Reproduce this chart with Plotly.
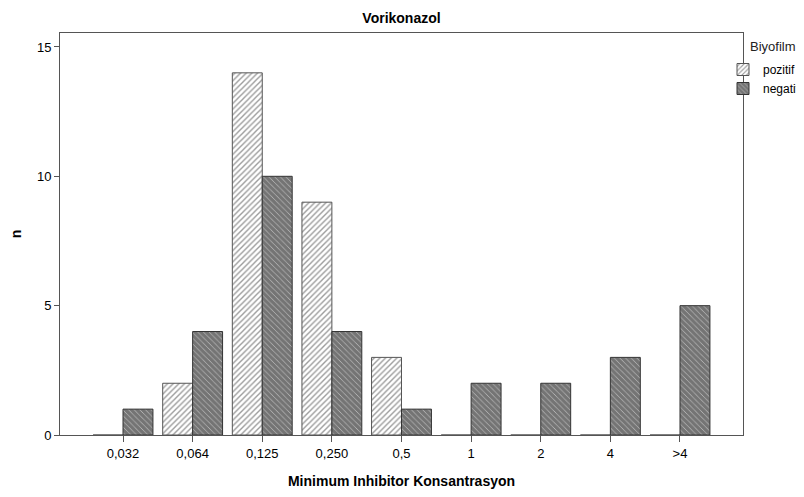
import plotly.graph_objects as go

categories = ["0,032", "0,064", "0,125", "0,250", "0,5", "1", "2", "4", ">4"]
pozitif = [0, 2, 14, 9, 3, 0, 0, 0, 0]
negatif = [1, 4, 10, 4, 1, 2, 2, 3, 5]

FONT = "Liberation Sans, Arial, sans-serif"

# page body has an 8px margin; the figure is sized/offset to compensate
W, H = 796, 489

fig = go.Figure()
fig.add_trace(go.Bar(
    name="pozitif", x=categories, y=pozitif,
    marker=dict(color="white", line=dict(color="#555555", width=1),
                pattern=dict(shape="/", fgcolor="#3a3a3a", bgcolor="white",
                             size=4, solidity=0.35, fillmode="overlay")),
))
fig.add_trace(go.Bar(
    name="negatif", x=categories, y=negatif,
    marker=dict(color="white", line=dict(color="#333333", width=1),
                pattern=dict(shape="\\", fgcolor="#000000", bgcolor="#e8e8e8",
                             size=4, solidity=0.9, fillmode="overlay")),
))

fig.update_layout(
    width=W, height=H,
    margin=dict(l=52, r=61, t=25, b=62, autoexpand=False),
    paper_bgcolor="white", plot_bgcolor="white",
    barmode="group", bargap=0.14, bargroupgap=0,
    font=dict(family=FONT, size=13, color="black"),
    title=dict(text="<b>Vorikonazol</b>", x=0.5, xref="paper", xanchor="center",
               y=1 - 10 / H, yref="container", yanchor="middle",
               font=dict(family=FONT, size=14, color="black")),
    showlegend=True,
    legend=dict(x=(723 - 60) / 683, xanchor="left", y=(435 - 55) / 402, yanchor="top",
                bgcolor="rgba(0,0,0,0)", font=dict(family=FONT, size=12),
                itemwidth=30, tracegroupgap=0),
    xaxis=dict(type="category", categoryorder="array", categoryarray=categories,
               range=[-0.905, 8.905], showgrid=False, showline=True,
               linecolor="#555555", linewidth=1, mirror=True,
               ticks="outside", ticklen=6, tickcolor="#555555",
               tickfont=dict(family=FONT, size=13, color="black"),
               title=dict(text="<b>Minimum Inhibitor Konsantrasyon</b>",
                          font=dict(family=FONT, size=14, color="black"), standoff=16)),
    yaxis=dict(range=[0, 15.54], tickvals=[0, 5, 10, 15], showgrid=False,
               zeroline=False, showline=True, linecolor="#555555", linewidth=1,
               mirror=True, ticks="outside", ticklen=5, tickcolor="#555555",
               tickfont=dict(family=FONT, size=13, color="black"),
               title=dict(text="<b>n</b>", font=dict(family=FONT, size=14, color="black"),
                          standoff=13)),
    annotations=[dict(text="Biyofilm", x=(748 - 60) / 683, y=(435 - 46) / 402,
                      xref="paper", yref="paper", xanchor="left", yanchor="middle",
                      showarrow=False, font=dict(family=FONT, size=13, color="#222222"))],
)

fig.write_html("out.html")
